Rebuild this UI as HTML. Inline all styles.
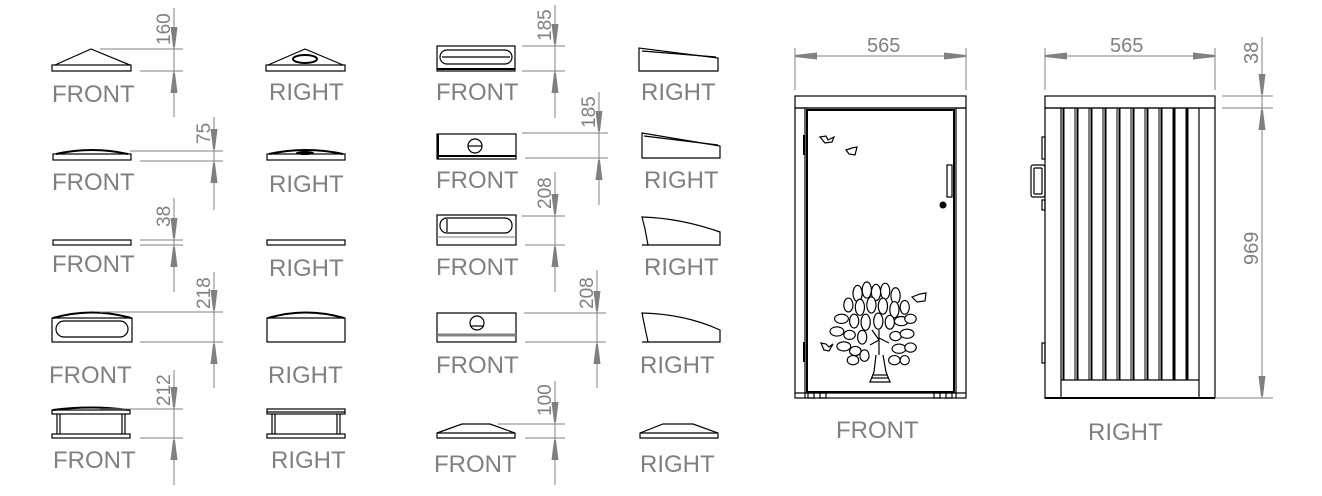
<!DOCTYPE html>
<html><head><meta charset="utf-8"><style>
html,body{margin:0;padding:0;background:#fff}
svg{display:block}
.t{font-family:"Liberation Sans",sans-serif;fill:#808080;font-size:24px}
.d{font-family:"Liberation Sans",sans-serif;fill:#808080}
.g{stroke:#808080;stroke-width:1;fill:none}
.a{fill:#808080}
.k{stroke:#000;stroke-width:1.2;fill:none}
.kt{stroke:#000;stroke-width:2;fill:none}
.lf{stroke:#000;stroke-width:1;fill:#fff}
</style></head><body>
<svg width="1322" height="496" viewBox="0 0 1322 496" xmlns="http://www.w3.org/2000/svg">
<defs>
<path id="ad" d="M-3.5,-20 L3.5,-20 L1,0 L-1,0 Z"/>
<path id="au" d="M-3.5,20 L3.5,20 L1,0 L-1,0 Z"/>
<path id="ar" d="M-22,-3.5 L-22,3.5 L0,1 L0,-1 Z"/>
<path id="al" d="M22,-3.5 L22,3.5 L0,1 L0,-1 Z"/>
</defs>

<!-- Row1 -->
<rect class="k" x="52" y="65" width="79" height="6"/>
<path class="k" d="M55,65 L91,49 L130,65"/>
<rect class="k" x="266" y="65" width="79" height="6"/>
<path class="k" d="M268,65 L305,49 L343,65"/>
<ellipse class="kt" cx="305" cy="59" rx="12" ry="4"/>
<line class="g" x1="174" y1="8" x2="174" y2="117"/>
<line class="g" x1="100" y1="49" x2="183" y2="49"/>
<line class="g" x1="140" y1="71" x2="183" y2="71"/>
<use href="#ad" class="a" x="174" y="47"/><use href="#au" class="a" x="174" y="73"/>
<text class="d" font-size="19" transform="translate(170,45) rotate(-90)">160</text>
<text class="t" x="52" y="102">FRONT</text>
<text class="t" x="269" y="100">RIGHT</text>

<!-- Row2 -->
<rect class="k" x="53" y="154" width="78" height="6"/>
<path class="kt" d="M56,154 Q92,146 128,154"/>
<rect class="k" x="267" y="154" width="78" height="6"/>
<path class="kt" d="M269,154 Q306,146 343,154"/>
<ellipse fill="#000" cx="305" cy="153" rx="9" ry="2"/>
<line class="g" x1="214" y1="117" x2="214" y2="210"/>
<line class="g" x1="130" y1="151" x2="223" y2="151"/>
<line class="g" x1="140" y1="161" x2="223" y2="161"/>
<use href="#ad" class="a" x="214" y="149"/><use href="#au" class="a" x="214" y="163"/>
<text class="d" font-size="19" transform="translate(210,144) rotate(-90)">75</text>
<text class="t" x="52" y="190">FRONT</text>
<text class="t" x="269" y="192">RIGHT</text>

<!-- Row3 -->
<rect class="k" x="53" y="240" width="78" height="5"/>
<rect class="k" x="267" y="240" width="78" height="5"/>
<line class="g" x1="174" y1="198" x2="174" y2="292"/>
<line class="g" x1="140" y1="240" x2="183" y2="240"/>
<line class="g" x1="140" y1="245" x2="183" y2="245"/>
<use href="#ad" class="a" x="174" y="238"/><use href="#au" class="a" x="174" y="247"/>
<text class="d" font-size="19" transform="translate(170,227) rotate(-90)">38</text>
<text class="t" x="52" y="272">FRONT</text>
<text class="t" x="269" y="276">RIGHT</text>

<!-- Row4 -->
<rect class="k" x="52" y="318" width="80" height="24"/>
<path class="kt" d="M53,318 Q92,307 131,318"/>
<rect class="k" x="56" y="321" width="72" height="16" rx="8"/>
<rect class="k" x="267" y="318" width="78" height="24"/>
<path class="kt" d="M268,318 Q306,307 344,318"/>
<line class="g" x1="214" y1="272" x2="214" y2="388"/>
<line class="g" x1="100" y1="312" x2="223" y2="312"/>
<line class="g" x1="140" y1="342" x2="223" y2="342"/>
<use href="#ad" class="a" x="214" y="310"/><use href="#au" class="a" x="214" y="344"/>
<text class="d" font-size="19" transform="translate(210,309) rotate(-90)">218</text>
<text class="t" x="49" y="383">FRONT</text>
<text class="t" x="268" y="383">RIGHT</text>

<!-- Row5 -->
<rect class="k" x="52" y="410" width="78" height="4"/>
<path class="kt" d="M53,410 Q91,405 129,410"/>
<rect class="k" x="52" y="434" width="78" height="4"/>
<line class="k" x1="57" y1="414" x2="57" y2="434"/><line class="k" x1="60" y1="414" x2="60" y2="434"/>
<line class="k" x1="122" y1="414" x2="122" y2="434"/><line class="k" x1="125" y1="414" x2="125" y2="434"/>
<rect class="k" x="267" y="409" width="78" height="5"/>
<line class="k" x1="267" y1="412" x2="345" y2="412"/>
<rect class="k" x="267" y="434" width="78" height="4"/>
<line class="k" x1="272" y1="414" x2="272" y2="434"/><line class="k" x1="275" y1="414" x2="275" y2="434"/>
<line class="k" x1="337" y1="414" x2="337" y2="434"/><line class="k" x1="340" y1="414" x2="340" y2="434"/>
<line class="g" x1="174" y1="370" x2="174" y2="485"/>
<line class="g" x1="100" y1="409" x2="183" y2="409"/>
<line class="g" x1="140" y1="438" x2="183" y2="438"/>
<use href="#ad" class="a" x="174" y="407"/><use href="#au" class="a" x="174" y="440"/>
<text class="d" font-size="19" transform="translate(170,406) rotate(-90)">212</text>
<text class="t" x="53" y="468">FRONT</text>
<text class="t" x="271" y="468">RIGHT</text>

<!-- MIDDLE Row1 -->
<rect class="k" x="437" y="46" width="78" height="25"/>
<line class="kt" x1="437" y1="69" x2="515" y2="69"/>
<rect class="k" x="440" y="50" width="72" height="14" rx="7"/>
<line class="k" x1="442" y1="57" x2="510" y2="57"/>
<path class="k" d="M639,71 L639,48 L718,58 L718,71 Z"/><line class="k" x1="642" y1="51" x2="716" y2="57"/>
<line class="g" x1="555" y1="5" x2="555" y2="118"/>
<line class="g" x1="522" y1="46" x2="565" y2="46"/>
<line class="g" x1="522" y1="71" x2="565" y2="71"/>
<use href="#ad" class="a" x="555" y="44"/><use href="#au" class="a" x="555" y="73"/>
<text class="d" font-size="19" transform="translate(551,41) rotate(-90)">185</text>
<text class="t" x="436" y="100">FRONT</text>
<text class="t" x="641" y="100">RIGHT</text>

<!-- Row2 -->
<rect class="k" x="437" y="134" width="79" height="25"/>
<line class="kt" x1="438" y1="134" x2="438" y2="159"/>
<line class="kt" x1="437" y1="156" x2="516" y2="156"/>
<circle class="k" cx="475" cy="146" r="7"/><line class="k" x1="468" y1="146" x2="482" y2="146"/>
<path class="k" d="M642,158 L642,133 L720,146 L720,158 Z"/><line class="k" x1="644" y1="136" x2="718" y2="145"/>
<line class="g" x1="599" y1="92" x2="599" y2="205"/>
<line class="g" x1="522" y1="133" x2="608" y2="133"/>
<line class="g" x1="525" y1="158" x2="608" y2="158"/>
<use href="#ad" class="a" x="599" y="131"/><use href="#au" class="a" x="599" y="160"/>
<text class="d" font-size="19" transform="translate(595,128) rotate(-90)">185</text>
<text class="t" x="436" y="188">FRONT</text>
<text class="t" x="644" y="188">RIGHT</text>

<!-- Row3 -->
<rect class="k" x="437" y="215" width="79" height="30"/>
<line class="g" x1="437" y1="237" x2="516" y2="237" stroke-width="2"/>
<rect class="k" x="440" y="218" width="72" height="15" rx="7"/>
<line class="k" x1="447" y1="219" x2="447" y2="232"/>
<path class="k" d="M642,245 L648,245 L645,229 L642,217 Q680,218 720,232 L720,245 Z"/>
<line class="g" x1="555" y1="172" x2="555" y2="292"/>
<line class="g" x1="522" y1="216" x2="565" y2="216"/>
<line class="g" x1="525" y1="245" x2="565" y2="245"/>
<use href="#ad" class="a" x="555" y="214"/><use href="#au" class="a" x="555" y="247"/>
<text class="d" font-size="19" transform="translate(551,209) rotate(-90)">208</text>
<text class="t" x="436" y="275">FRONT</text>
<text class="t" x="644" y="275">RIGHT</text>

<!-- Row4 -->
<rect class="k" x="437" y="313" width="79" height="29"/>
<line x1="437" y1="335" x2="516" y2="335" stroke="#808080" stroke-width="3"/>
<circle class="k" cx="477" cy="323" r="7"/><line class="k" x1="470" y1="326" x2="484" y2="326"/>
<path class="k" d="M642,342 L648,342 L645,328 L642,313 Q685,314 720,330 L720,342 Z"/>
<line class="g" x1="597" y1="270" x2="597" y2="388"/>
<line class="g" x1="524" y1="313" x2="606" y2="313"/>
<line class="g" x1="525" y1="342" x2="606" y2="342"/>
<use href="#ad" class="a" x="597" y="311"/><use href="#au" class="a" x="597" y="344"/>
<text class="d" font-size="19" transform="translate(593,309) rotate(-90)">208</text>
<text class="t" x="436" y="373">FRONT</text>
<text class="t" x="640" y="373">RIGHT</text>

<!-- Row5 -->
<path class="k" d="M437,433 L462,424 L490,424 L515,433 L515,438 L437,438 Z"/><line class="k" x1="437" y1="433" x2="515" y2="433"/>
<path class="k" d="M640,433 L663,424 L693,424 L718,433 L718,438 L640,438 Z"/><line class="k" x1="640" y1="433" x2="718" y2="433"/>
<line class="g" x1="555" y1="381" x2="555" y2="485"/>
<line class="g" x1="498" y1="424" x2="565" y2="424"/>
<line class="g" x1="525" y1="438" x2="565" y2="438"/>
<use href="#ad" class="a" x="555" y="422"/><use href="#au" class="a" x="555" y="440"/>
<text class="d" font-size="19" transform="translate(551,416) rotate(-90)">100</text>
<text class="t" x="434" y="472">FRONT</text>
<text class="t" x="640" y="472">RIGHT</text>

<!-- BIG FRONT -->
<line class="g" x1="795" y1="48" x2="795" y2="90"/>
<line class="g" x1="966" y1="48" x2="966" y2="90"/>
<line class="g" x1="795" y1="56" x2="966" y2="56"/>
<use href="#al" class="a" x="795" y="56"/><use href="#ar" class="a" x="966" y="56"/>
<text class="d" font-size="20" x="867" y="52">565</text>
<rect class="k" x="795" y="96" width="171" height="12"/>
<rect class="k" x="795" y="108" width="171" height="290"/>
<line class="k" x1="805" y1="108" x2="805" y2="398"/>
<line class="k" x1="956" y1="108" x2="956" y2="398"/>
<rect class="kt" x="807" y="110" width="147" height="282"/>
<line class="k" x1="795" y1="393" x2="966" y2="393"/>
<rect class="k" x="947" y="165" width="5" height="32"/>
<circle cx="943" cy="205" r="3.5" fill="#000"/>
<rect x="803" y="135" width="2" height="20" fill="#000"/><rect x="803" y="342" width="2" height="20" fill="#000"/>
<rect class="k" x="808" y="393" width="6" height="5"/><rect class="k" x="820" y="393" width="6" height="5"/>
<rect class="k" x="934" y="393" width="6" height="5"/><rect class="k" x="946" y="393" width="6" height="5"/>
<path class="k" d="M820,137 L826,136 L828,140 L834,137 L832,142 L825,143 Z"/>
<path class="k" d="M846,150 L852,148 L857,147 L855,155 L849,154 Z"/>
<path class="k" d="M912,297 L920,294 L926,293 L925,301 L917,302 Z"/>
<path class="k" d="M821,343 L826,344 L829,347 L833,344 L829,351 L824,350 Z"/>
<path class="k" d="M876,355 L874,372 L870,382 L890,382 L886,372 L883,355"/>
<line class="k" x1="873" y1="375" x2="887" y2="375"/>
<line class="k" x1="872" y1="378" x2="888" y2="378"/>
<g class="lf" transform="translate(876,328) scale(1.15) translate(-876,-328)">
<ellipse cx="860" cy="298" rx="4" ry="7"/><ellipse cx="868" cy="295" rx="4" ry="7"/><ellipse cx="876" cy="297" rx="4" ry="7"/><ellipse cx="884" cy="296" rx="4" ry="7"/><ellipse cx="893" cy="300" rx="4" ry="7"/>
<ellipse cx="852" cy="308" rx="4" ry="6"/><ellipse cx="862" cy="310" rx="4" ry="7"/><ellipse cx="872" cy="308" rx="4" ry="7"/><ellipse cx="882" cy="309" rx="4" ry="7"/><ellipse cx="892" cy="312" rx="4" ry="7"/><ellipse cx="901" cy="310" rx="4" ry="6"/>
<ellipse cx="846" cy="320" rx="6" ry="4"/><ellipse cx="857" cy="322" rx="4" ry="6"/><ellipse cx="867" cy="323" rx="4" ry="7"/><ellipse cx="878" cy="322" rx="4" ry="7"/><ellipse cx="888" cy="323" rx="4" ry="6"/><ellipse cx="898" cy="322" rx="6" ry="4"/><ellipse cx="906" cy="320" rx="5" ry="4"/>
<ellipse cx="842" cy="331" rx="6" ry="4"/><ellipse cx="853" cy="334" rx="5" ry="4"/><ellipse cx="864" cy="336" rx="4" ry="6"/><ellipse cx="893" cy="335" rx="5" ry="4"/><ellipse cx="903" cy="333" rx="6" ry="4"/>
<ellipse cx="848" cy="344" rx="6" ry="4"/><ellipse cx="858" cy="348" rx="5" ry="4"/><ellipse cx="896" cy="346" rx="6" ry="4"/><ellipse cx="906" cy="345" rx="5" ry="4"/>
<ellipse cx="856" cy="356" rx="5" ry="4"/><ellipse cx="866" cy="352" rx="4" ry="5"/><ellipse cx="892" cy="356" rx="5" ry="4"/><ellipse cx="901" cy="356" rx="4" ry="4"/>
</g>
<path class="k" d="M879,330 L879,355 M879,340 L870,345 M879,338 L889,343 M872,330 L879,340"/>
<text class="t" x="836" y="438">FRONT</text>

<!-- BIG RIGHT -->
<line class="g" x1="1045" y1="48" x2="1045" y2="90"/>
<line class="g" x1="1215" y1="48" x2="1215" y2="90"/>
<line class="g" x1="1045" y1="56" x2="1215" y2="56"/>
<use href="#al" class="a" x="1045" y="56"/><use href="#ar" class="a" x="1215" y="56"/>
<text class="d" font-size="20" x="1110" y="52">565</text>
<rect class="k" x="1045" y="96" width="170" height="12"/>
<rect class="k" x="1045" y="108" width="170" height="290"/>
<line class="k" x1="1061" y1="108" x2="1061" y2="398"/>
<line class="k" x1="1199" y1="108" x2="1199" y2="398"/>
<line class="k" x1="1061" y1="380" x2="1199" y2="380"/>
<g stroke="#000" fill="none">
<line x1="1063.5" y1="108" x2="1063.5" y2="380" stroke-width="2"/>
<line x1="1075" y1="108" x2="1075" y2="380"/><line x1="1077.5" y1="108" x2="1077.5" y2="380" stroke-width="2"/>
<line x1="1089" y1="108" x2="1089" y2="380"/><line x1="1091.5" y1="108" x2="1091.5" y2="380" stroke-width="2"/>
<line x1="1103" y1="108" x2="1103" y2="380"/><line x1="1105.5" y1="108" x2="1105.5" y2="380" stroke-width="2"/>
<line x1="1117" y1="108" x2="1117" y2="380"/><line x1="1119.5" y1="108" x2="1119.5" y2="380" stroke-width="2"/>
<line x1="1131" y1="108" x2="1131" y2="380"/><line x1="1133.5" y1="108" x2="1133.5" y2="380" stroke-width="2"/>
<line x1="1145" y1="108" x2="1145" y2="380"/><line x1="1147.5" y1="108" x2="1147.5" y2="380" stroke-width="2"/>
<line x1="1159" y1="108" x2="1159" y2="380"/><line x1="1161.5" y1="108" x2="1161.5" y2="380" stroke-width="2"/>
<line x1="1173" y1="108" x2="1173" y2="380"/><line x1="1174.5" y1="108" x2="1174.5" y2="380" stroke-width="2"/>
<line x1="1186" y1="108" x2="1186" y2="380"/><line x1="1187.5" y1="108" x2="1187.5" y2="380" stroke-width="2"/>
</g>
<rect class="k" x="1031" y="165" width="14" height="32" rx="2"/>
<rect class="k" x="1034" y="168" width="8" height="26" rx="1"/>
<rect class="k" x="1042" y="137" width="3" height="22"/><rect class="k" x="1042" y="200" width="3" height="10"/>
<rect class="k" x="1042" y="343" width="3" height="20"/>
<line class="kt" x1="1045" y1="398" x2="1215" y2="398"/>
<line class="g" x1="1262" y1="37" x2="1262" y2="398"/>
<line class="g" x1="1222" y1="96" x2="1273" y2="96"/>
<line class="g" x1="1222" y1="108" x2="1273" y2="108"/>
<line class="g" x1="1215" y1="398" x2="1273" y2="398"/>
<use href="#ad" class="a" x="1262" y="94"/><use href="#au" class="a" x="1262" y="110"/>
<use href="#ad" class="a" x="1262" y="396"/>
<text class="d" font-size="20" transform="translate(1258,64) rotate(-90)">38</text>
<text class="d" font-size="20" transform="translate(1258,265) rotate(-90)">969</text>
<text class="t" x="1088" y="440">RIGHT</text>
</svg>
</body></html>
